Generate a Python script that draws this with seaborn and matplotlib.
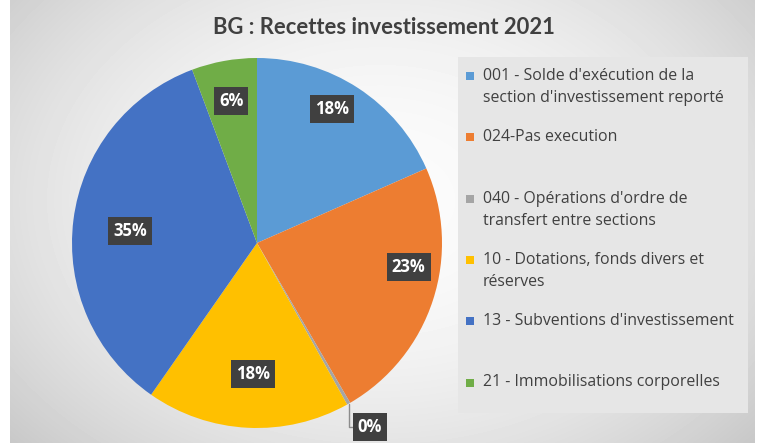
import numpy as np
import matplotlib.pyplot as plt
import seaborn as sns
from matplotlib.patches import Rectangle

# données (parts)
categories = ["001 - Solde d'exécution de la\nsection d'investissement reporté",
              "024-Pas execution",
              "040 - Opérations d'ordre de\ntransfert entre sections",
              "10 - Dotations, fonds divers et\nréserves",
              "13 - Subventions d'investissement",
              "21 - Immobilisations corporelles"]
shares = [18.4, 23.2, 0.3, 17.8, 34.6, 5.7]
colors = ["#5B9BD5", "#ED7D31", "#A5A5A5", "#FFC000", "#4472C4", "#70AD47"]
title = "BG : Recettes investissement 2021"

sns.set_theme(style="white")
plt.rcParams['font.family'] = ['Open Sans', 'DejaVu Sans']

W, H = 759, 443
fig = plt.figure(figsize=(W / 100, H / 100), dpi=100)
fig.patch.set_facecolor('white')

# fond gris dégradé
bg = fig.add_axes([10 / W, 0, 745 / W, 1], zorder=-10)
yy, xx = np.mgrid[0:H, 0:745]
d = ((xx - 370) / 520) ** 2 + ((yy - 200) / 380) ** 2
bg.imshow(0.985 - 0.22 * d, cmap='gray', vmin=0, vmax=1, aspect='auto')
bg.axis('off')

# camembert
cx, cy, r = 257, 243, 185
ax = fig.add_axes([(cx - r) / W, 1 - (cy + r) / H, 2 * r / W, 2 * r / H])
wedges, _ = ax.pie(shares, colors=colors, startangle=90, counterclock=False,
                   radius=1, wedgeprops=dict(linewidth=0))
ax.set_xlim(-1, 1)
ax.set_ylim(-1, 1)
ax.axis('off')

total = sum(shares)
label_dist = [0.83, 0.83, None, 0.71, 0.69, 0.78]
label_nudge = [4, 9, 0, 1, 2, 0]
box = dict(boxstyle="square,pad=0.3", fc="#404040", ec="none")
for i, w in enumerate(wedges):
    pct = f"{round(shares[i] / total * 100)}%"
    mid = np.deg2rad((w.theta1 + w.theta2) / 2 + label_nudge[i])
    if label_dist[i] is None:
        ax.annotate(pct, xy=(np.cos(mid), np.sin(mid)), xytext=(0.61, -0.995),
                    ha='center', va='center', color='white', fontsize=12,
                    fontweight='bold', bbox=box,
                    arrowprops=dict(arrowstyle='-', color='#8c8c8c', lw=1,
                                    connectionstyle="angle,angleA=0,angleB=90,rad=0",
                                    shrinkA=0, shrinkB=0))
    else:
        ax.text(label_dist[i] * np.cos(mid), label_dist[i] * np.sin(mid), pct,
                ha='center', va='center', color='white', fontsize=12,
                fontweight='bold', bbox=box)

fig.text(384 / W, 1 - 28 / H, title, ha='center', va='center', fontsize=15.8,
         fontweight='bold', color='#404040', family=['Lato', 'DejaVu Sans'])

# légende
fig.add_artist(Rectangle((458 / W, 1 - 413 / H), 290 / W, 356 / H,
                         transform=fig.transFigure, fc='#e6e6e6', ec='none',
                         zorder=1))
for i, lab in enumerate(categories):
    y0 = 76 + i * 61.3
    fig.add_artist(Rectangle((466 / W, 1 - (y0 + 4) / H), 8 / W, 8 / H,
                             transform=fig.transFigure, fc=colors[i], ec='none',
                             zorder=2))
    for j, line in enumerate(lab.split("\n")):
        fig.text(483 / W, 1 - (y0 + j * 22.5) / H, line, ha='left', va='center',
                 fontsize=11.4, color='#404040', zorder=3)

fig.savefig("out.png", dpi=100, facecolor=fig.get_facecolor())
